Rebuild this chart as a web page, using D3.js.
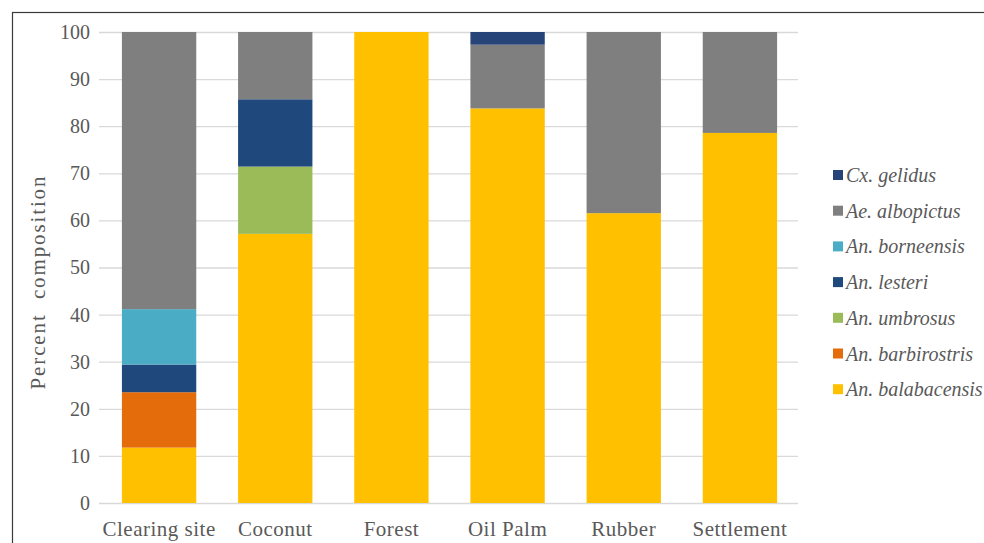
<!DOCTYPE html>
<html><head><meta charset="utf-8">
<script src="https://cdn.jsdelivr.net/npm/d3@7"></script>
<style>body{margin:0;background:#fff}svg{display:block}</style>
</head><body>
<svg id="c" width="984" height="543"></svg>
<script>
const categories = ["Clearing site","Coconut","Forest","Oil Palm","Rubber","Settlement"];
const seriesNames = ["An. balabacensis","An. barbirostris","An. umbrosus","An. lesteri","An. borneensis","Ae. albopictus","Cx. gelidus"];
const balabacensis = [11.76, 57.14, 100, 83.78, 61.54, 78.57];
const barbirostris = [11.76, 0, 0, 0, 0, 0];
const umbrosus     = [0, 14.29, 0, 0, 0, 0];
const lesteri      = [5.88, 14.29, 0, 0, 0, 0];
const borneensis   = [11.76, 0, 0, 0, 0, 0];
const albopictus   = [58.84, 14.28, 0, 13.52, 38.46, 21.43];
const gelidus      = [0, 0, 0, 2.70, 0, 0];
const seriesValues = [balabacensis, barbirostris, umbrosus, lesteri, borneensis, albopictus, gelidus];
const colors = ["#FFC000","#E46C0A","#9BBB59","#1F497D","#4BACC6","#7F7F7F","#264478"];
const yTicks = [0,10,20,30,40,50,60,70,80,90,100];

(function(){
const svg = d3.select("#c");
const font = "'Liberation Serif','Times New Roman',serif";
const txt = "#595959";

svg.append("rect").attr("x",12.5).attr("y",12.5).attr("width",1200).attr("height",1200)
  .attr("fill","none").attr("stroke","#3a3a3a").attr("stroke-width",1.2);

const mLeft = 101, mRight = 798, mTop = 32, mBottom = 503;
const x = d3.scaleBand().domain(categories).range([mLeft, mRight]).paddingInner(0.36).paddingOuter(0.18);
const y = d3.scaleLinear().domain([0,100]).range([mBottom, mTop]);

svg.append("g").selectAll("line").data(yTicks).join("line")
  .attr("x1", mLeft-2).attr("x2", mRight)
  .attr("y1", d=>y(d)+0.5).attr("y2", d=>y(d)+0.5)
  .attr("stroke","#d9d9d9").attr("stroke-width",1.3);

const rows = categories.map((c,i)=>{ const o={cat:c}; seriesNames.forEach((s,j)=>o[s]=seriesValues[j][i]); return o; });
const stack = d3.stack().keys(seriesNames)(rows);
svg.append("g").selectAll("g").data(stack).join("g")
  .attr("fill",(d,i)=>colors[i])
  .selectAll("rect").data(d=>d.filter(p=>p[1]-p[0]>0)).join("rect")
  .attr("x", d=>x(d.data.cat)).attr("width", x.bandwidth())
  .attr("y", d=>y(d[1])).attr("height", d=>y(d[0])-y(d[1]));

const yAxis = d3.axisLeft(y).tickValues(yTicks).tickSize(0).tickPadding(11);
const ya = svg.append("g").attr("transform",`translate(${mLeft},0)`).call(yAxis);
ya.select(".domain").remove();
ya.attr("font-family",null).attr("font-size",null);
ya.selectAll("text").style("font-family",font).style("font-size","20px").attr("fill",txt);

const xAxis = d3.axisBottom(x).tickSize(0).tickPadding(18);
const xa = svg.append("g").attr("transform",`translate(0,${mBottom})`).call(xAxis);
xa.select(".domain").remove();
xa.attr("font-family",null).attr("font-size",null);
xa.selectAll("text").style("font-family",font).style("font-size","21px").style("letter-spacing","0.5px")
  .attr("fill",txt).attr("dy","0.72em");

svg.append("text").attr("transform","translate(45,283) rotate(-90)")
  .attr("text-anchor","middle").style("font-family",font).style("font-size","21px").attr("fill",txt)
  .attr("textLength",213).attr("lengthAdjust","spacing")
  .style("white-space","pre").text("Percent  composition");

const legendOrder = seriesNames.map((s,i)=>i).reverse();
const lg = svg.append("g").selectAll("g").data(legendOrder).join("g")
  .attr("transform",(d,i)=>`translate(833,${175 + i*35.7})`);
lg.append("rect").attr("x",0).attr("y",-5).attr("width",10).attr("height",10).attr("fill",d=>colors[d]);
lg.append("text").attr("x",13).attr("y",0).attr("dy","0.35em")
  .style("font-family",font).style("font-style","italic").style("font-size","20px").attr("fill",txt)
  .text(d=>seriesNames[d]);
})();
</script>
</body></html>
